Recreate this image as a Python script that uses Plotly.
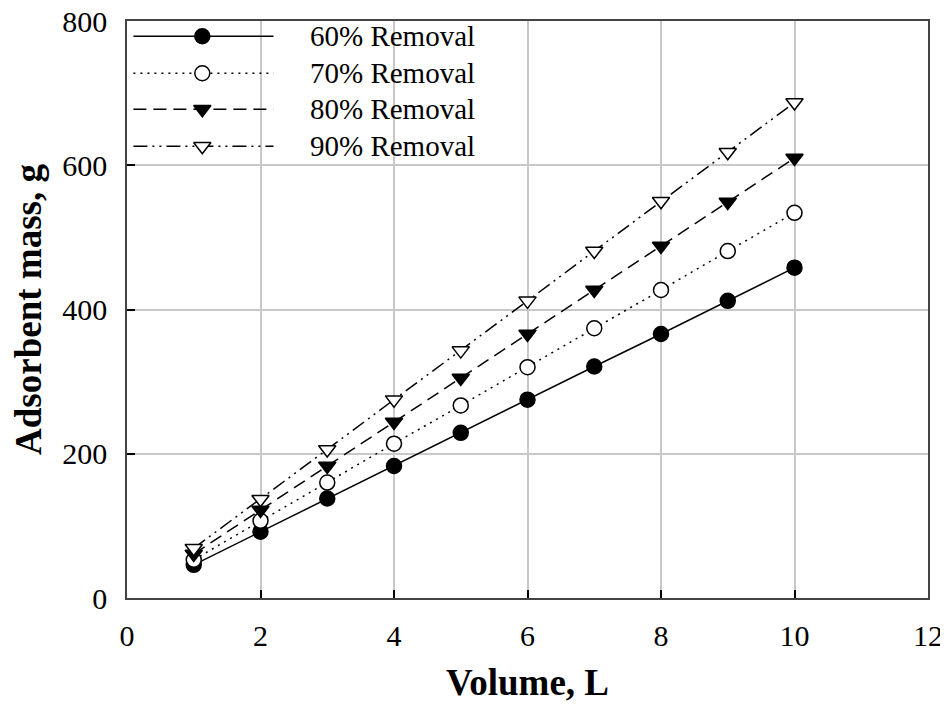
import plotly.graph_objects as go

# ---- data ----
volume_L = [1, 2, 3, 4, 5, 6, 7, 8, 9, 10]
mass_60 = [46, 92, 138, 183, 229, 275, 321, 366, 412, 458]
mass_70 = [53, 107, 160, 214, 267, 320, 374, 427, 481, 534]
mass_80 = [61, 122, 183, 244, 305, 366, 427, 488, 549, 610]
mass_90 = [69, 137, 206, 275, 343, 412, 481, 550, 618, 687]
series_names = ["60% Removal", "70% Removal", "80% Removal", "90% Removal"]
x_ticks = [0, 2, 4, 6, 8, 10, 12]
y_ticks = [0, 200, 400, 600, 800]

FONT = "Times New Roman, Liberation Serif, serif"

styles = [
    dict(dash="solid", symbol="circle", fill="black"),
    dict(dash="2px,5px", symbol="circle", fill="white"),
    dict(dash="13px,7px", symbol="triangle-down", fill="black"),
    dict(dash="14px,5px,2px,5px,2px,5px", symbol="triangle-down", fill="white"),
]
series = [mass_60, mass_70, mass_80, mass_90]

fig = go.Figure()
for name, ys, st in zip(series_names, series, styles):
    fig.add_trace(go.Scatter(
        x=volume_L, y=ys, name=name, mode="lines+markers",
        line=dict(color="black", width=1.5, dash=st["dash"]),
        marker=dict(symbol=st["symbol"], size=15, color=st["fill"],
                    line=dict(color="black", width=1.5)),
        showlegend=False,
    ))

# ---- custom legend (long line samples) on an overlay axis in plot-fraction units ----
leg_x0, leg_x1, leg_xm, leg_tx = 0.008, 0.183, 0.094, 0.226
leg_rows = [0.9735, 0.9095, 0.847, 0.783]
for name, st, ry in zip(series_names, styles, leg_rows):
    fig.add_trace(go.Scatter(
        x=[leg_x0, leg_xm, leg_x1], y=[ry, ry, ry], mode="lines",
        line=dict(color="black", width=1.5, dash=st["dash"]),
        xaxis="x2", yaxis="y2", showlegend=False, hoverinfo="skip"))
    fig.add_trace(go.Scatter(
        x=[leg_xm], y=[ry], mode="markers",
        marker=dict(symbol=st["symbol"], size=15, color=st["fill"],
                    line=dict(color="black", width=1.5)),
        xaxis="x2", yaxis="y2", showlegend=False, hoverinfo="skip"))
    fig.add_annotation(x=leg_tx, y=ry, xref="x2", yref="y2", text=name,
                       showarrow=False, xanchor="left", yanchor="middle",
                       font=dict(family=FONT, size=29, color="black"))

axis_common = dict(
    showgrid=True, gridcolor="#c8c8c8", gridwidth=1.5,
    showline=True, linecolor="#444444", linewidth=1.5, mirror=True,
    ticks="inside", ticklen=8, tickwidth=1.5, tickcolor="black",
    zeroline=False, automargin=False, ticklabeloverflow="allow",
    tickfont=dict(family=FONT, size=30, color="black"),
)

# page body has an 8px margin, so the figure is sized to fit the 948x704 window
fig.update_layout(
    width=940, height=696,
    margin=dict(l=119, r=20, t=13, b=106),
    paper_bgcolor="white", plot_bgcolor="white",
    showlegend=False,
    xaxis=dict(range=[0, 12], tickvals=x_ticks, ticklabelstandoff=10,
               title=dict(text="<b>Volume, L</b>", standoff=18,
                          font=dict(family=FONT, size=37, color="black")),
               **axis_common),
    yaxis=dict(range=[0, 800], tickvals=y_ticks, ticklabelstandoff=12,
               title=dict(text="<b>Adsorbent mass, g</b>", standoff=23,
                          font=dict(family=FONT, size=37, color="black")),
               **axis_common),
    xaxis2=dict(overlaying="x", range=[0, 1], visible=False, fixedrange=True),
    yaxis2=dict(overlaying="y", range=[0, 1], visible=False, fixedrange=True),
)

fig.write_html("out.html")
